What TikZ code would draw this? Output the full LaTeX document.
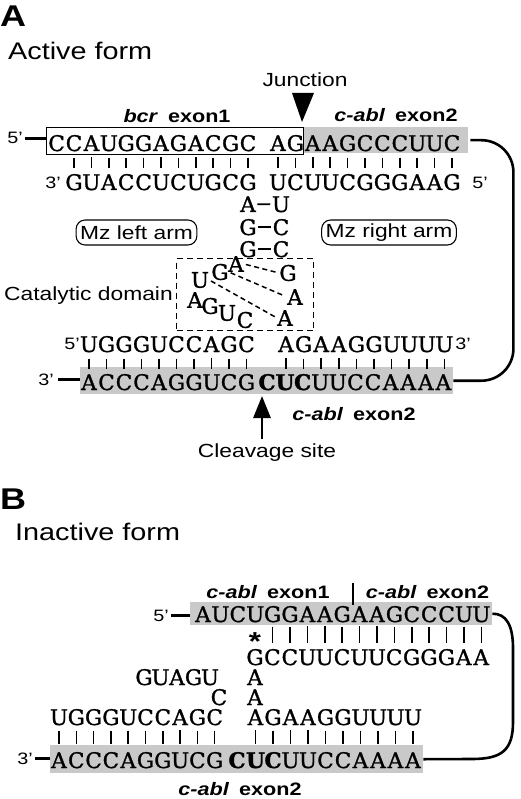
\documentclass[tikz,border=0pt]{standalone}
\usepackage{fontspec}
\setmainfont{Liberation Sans}[FakeStretch=1.2]
\newfontfamily\seqff{DejaVu Serif}[FakeBold=1.3]
\usetikzlibrary{arrows.meta}
\newcommand\seqrow[5]{\foreach \c [count=\i from 0] in {#5}{\node[nt] (#1\i) at ({#2+\i*#3},#4) {\c};}}
\newcommand\pairbars[7]{\foreach \k in {0,...,#5}{\pgfmathtruncatemacro\tidx{\k+#2}\pgfmathtruncatemacro\bidx{\k+#4}\draw[bar, shorten <=#6pt, shorten >=#7pt] (#1\tidx.south) -- (#1\tidx.south |- #3\bidx.north);}}
\tikzset{
  nt/.style={anchor=base, inner sep=0pt, font=\seqff\fontsize{21.5}{21.5}\selectfont},
  ntc/.style={nt, anchor=center},
  bar/.style={line width=1.5pt},
  bp/.style={line width=1.7pt, shorten <=1.5pt, shorten >=1.5pt},
  thk/.style={line width=2.6pt},
  lab/.style={anchor=base, inner sep=0pt, font=\fontsize{19}{19}\selectfont},
  blab/.style={anchor=base, inner sep=0pt, font=\fontsize{18}{18}\selectfont\bfseries},
  pr/.style={anchor=base, inner sep=0pt, font=\fontsize{16.5}{16.5}\selectfont},
  panel/.style={anchor=base west, inner sep=0pt, font=\fontsize{30}{30}\selectfont\bfseries},
  title/.style={anchor=base west, inner sep=0pt, font=\fontsize{24}{24}\selectfont},
  gbox/.style={anchor=north west, inner sep=0pt, fill=black!21, draw=none},
  outbox/.style={anchor=north west, inner sep=0pt, draw, line width=1.3pt},
  dbox/.style={anchor=north west, inner sep=0pt, draw, line width=1.4pt, dash pattern=on 6pt off 4pt},
  dpair/.style={line width=1.5pt, dash pattern=on 5pt off 3.5pt, shorten <=2pt, shorten >=2pt},
  mz/.style={draw, line width=1.1pt, rounded corners=9pt, inner xsep=4pt, minimum height=25pt, font=\fontsize{19}{19}\selectfont}
}
\begin{document}
\begin{tikzpicture}[x=1pt,y=-1pt]
\useasboundingbox (0,0) rectangle (520,799);
% ---------------- Panel A ----------------
\node[panel] (pA) at (0,27) {A};
\node[title] (actv) at (8,60) {Active form};
\node[gbox, minimum width=165pt, minimum height=26pt] (aG1) at (303,127) {};
\node[gbox, minimum width=373pt, minimum height=27pt] (aG2) at (80,367) {};
\node[blab] (bcr) at (177,123) {\textit{bcr}\hspace{0.55em}exon1};
\node[blab] (cabl1) at (396,122) {\textit{c-abl}\hspace{0.55em}exon2};
\node[lab] (junc) at (305,87) {Junction};
\fill (292,93) -- (314,93) -- (302,122) -- cycle;
\node[pr] (a5) at (15,144) {5'};
\seqrow{aTl}{56.6}{17.4}{151}{C,C,A,U,G,G,A,G,A,C,G,C}
\seqrow{aTr}{278}{17.4}{151}{A,G,A,A,G,C,C,C,U,U,C}
\node[outbox, minimum width=257pt, minimum height=27pt] (aBox) at (46,127) {};
\draw[thk] (a5.east) ++(2,0) -- (a5.east -| aBox.west);
\node[pr] (a3b) at (53,189) {3'};
\node[pr] (a5b) at (480,189) {5'};
\seqrow{aBl}{74}{17.4}{190}{G,U,A,C,C,U,C,U,G,C,G}
\seqrow{aBr}{278}{17.4}{190}{U,C,U,U,C,G,G,G,A,A,G}
\pairbars{aTl}{1}{aBl}{0}{10}{6}{6}
\pairbars{aTr}{0}{aBr}{0}{10}{6}{6}
% stem
\node[nt] (sA) at (248,212) {A}; \node[nt] (sU) at (281,212) {U};
\node[nt] (sG1) at (248,235) {G}; \node[nt] (sC1) at (281,235) {C};
\node[nt] (sG2) at (248,257) {G}; \node[nt] (sC2) at (281,257) {C};
\draw[bp] (sA.east) -- (sU.west);
\draw[bp] (sG1.east) -- (sC1.west);
\draw[bp] (sG2.east) -- (sC2.west);
\node[mz] (mzl) at (136.5,232.5) {Mz left arm};
\node[mz] (mzr) at (389,232.5) {Mz right arm};
% catalytic domain
\node[dbox, minimum width=137pt, minimum height=72pt] (cat) at (176,258) {};
\node[lab, anchor=base west] (catl) at (4,300) {Catalytic domain};
\node[ntc] (lA1) at (236,264) {A};
\node[ntc] (lG1) at (220,272) {G};
\node[ntc] (lU1) at (200,280) {U};
\node[ntc] (lA2) at (195,300) {A};
\node[ntc] (lG2) at (210,306) {G};
\node[ntc] (lU2) at (227,313) {U};
\node[ntc] (lC1) at (245,320) {C};
\node[ntc] (rG) at (288,273) {G};
\node[ntc] (rA1) at (295,297) {A};
\node[ntc] (rA2) at (285,318) {A};
\draw[dpair] (lA1.east) -- (rG.west);
\draw[dpair] (lG1.east) -- (rA1.west);
\draw[dpair] (lU1.east) -- (rA2.west);
% lower duplex A
\node[pr] (a5c) at (72,349) {5'};
\node[pr] (a3c) at (463,349) {3'};
\seqrow{aUl}{89}{17.5}{352}{U,G,G,G,U,C,C,A,G,C}
\seqrow{aUr}{286}{17.6}{352}{A,G,A,A,G,G,U,U,U,U}
\seqrow{aDl}{89}{17.5}{390}{A,C,C,C,A,G,G,U,C,G}
\node[nt] (aDc) at (267,390) {\bfseries C};
\seqrow{aDr}{285}{17.6}{390}{\bfseries U,\bfseries C,U,U,C,C,A,A,A,A}
\pairbars{aUl}{0}{aDl}{0}{9}{6}{5}
\pairbars{aUr}{0}{aDr}{0}{9}{6}{5}
\node[pr] (a3d) at (46,385) {3'};
\draw[thk] (a3d.east) ++(4,0) -- (a3d.east -| aG2.west);
\draw[thk, rounded corners=32pt, shorten <=2pt] (aG1.east) -- ++(45,0) |- (aG2.east);
\node[blab] (cabl2) at (354,420) {\textit{c-abl}\hspace{0.55em}exon2};
\node[lab] (cleav) at (267,457) {Cleavage site};
\coordinate (cut) at (262,396);
\draw[line width=2.8pt, shorten <=4pt, -{Triangle[width=17pt,length=22pt]}] (cut |- cleav.north) -- (cut);
% ---------------- Panel B ----------------
\node[panel] (pB) at (0,509) {B};
\node[title] (inact) at (15,540) {Inactive form};
\node[gbox, minimum width=302pt, minimum height=23pt] (bG1) at (190,602) {};
\node[gbox, minimum width=373pt, minimum height=28pt] (bG2) at (50,745) {};
\node[blab] (bl1) at (268,598) {\textit{c-abl}\hspace{0.55em}exon1};
\node[blab] (bl2) at (427.5,598) {\textit{c-abl}\hspace{0.55em}exon2};
\coordinate (sepT) at (353,583); \coordinate (sepB) at (353,605);
\draw[line width=2.6pt] (sepT) -- (sepB);
\node[pr] (b5) at (161,621) {5'};
\draw[thk] (b5.east) ++(2,0) -- (b5.east -| bG1.west);
\seqrow{bT}{203}{17.4}{622}{A,U,C,U,G,G,A,A,G,A,A,G,C,C,C,U,U}
\seqrow{bM}{255}{17.4}{665}{G,C,C,U,U,C,U,U,C,G,G,G,A,A}
\pairbars{bT}{4}{bM}{1}{12}{4}{6}
\node[anchor=base, inner sep=0pt, font=\fontsize{26}{26}\selectfont\bfseries] (ast) at (255,640) {\raisebox{-10pt}[8pt][0pt]{*}};
\seqrow{bGU}{144}{16.5}{685}{G,U,A,G,U}
\node[nt] (bA1) at (255,685) {A};
\node[nt] (bC) at (219,705) {C};
\node[nt] (bA2) at (255,705) {A};
\seqrow{bUl}{59}{17.3}{725}{U,G,G,G,U,C,C,A,G,C}
\seqrow{bUr}{255.5}{17.5}{725}{A,G,A,A,G,G,U,U,U,U}
\seqrow{bDl}{59}{17.3}{768}{A,C,C,C,A,G,G,U,C,G}
\node[nt] (bDc) at (237,768) {\bfseries C};
\seqrow{bDr}{255.5}{17.5}{768}{\bfseries U,\bfseries C,U,U,C,C,A,A,A,A}
\pairbars{bUl}{0}{bDl}{0}{9}{5}{8}
\pairbars{bUr}{0}{bDr}{0}{9}{5}{8}
\node[pr] (b3) at (25,764) {3'};
\draw[thk] (b3.east) ++(2,0) -- (b3.east -| bG2.west);
\draw[thk] (bG1.east) .. controls (506,613.5) and (513,625) .. (513,648) -- (513,722) .. controls (513,750) and (502,759) .. (472,759) -- (bG2.east);
\node[blab] (bl3) at (240,795) {\textit{c-abl}\hspace{0.55em}exon2};
\end{tikzpicture}
\end{document}
